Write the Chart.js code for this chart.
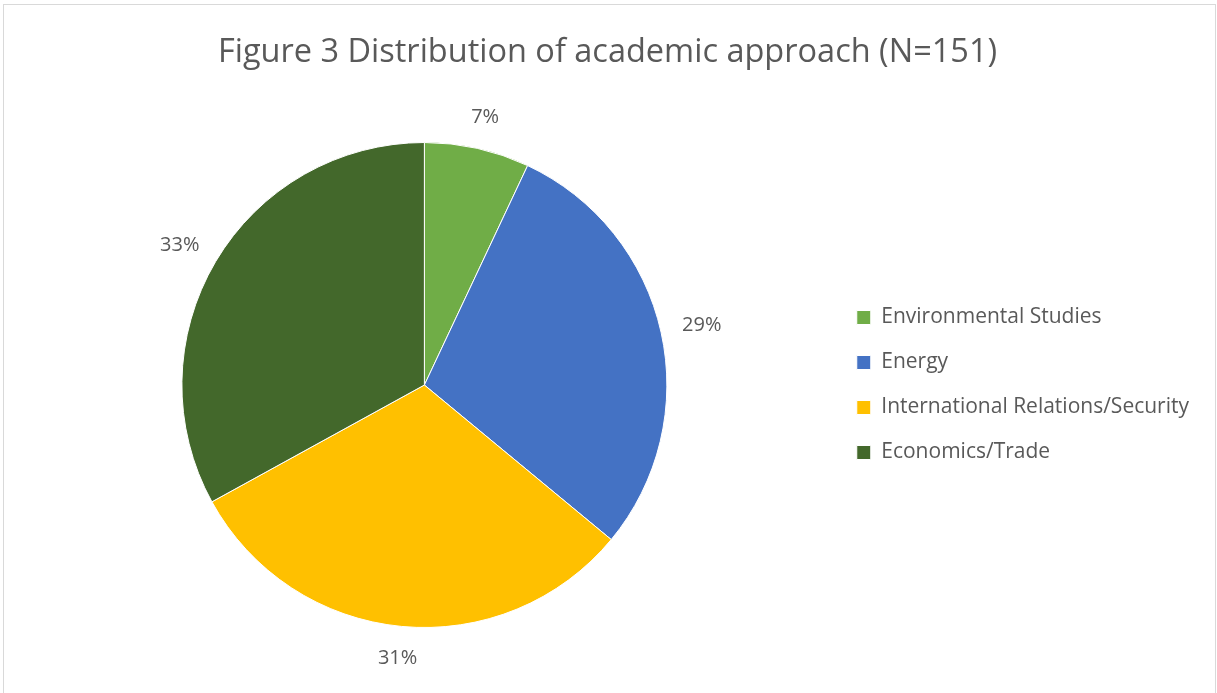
<!DOCTYPE html>
<html>
<head>
<meta charset="utf-8">
<title>Distribution of academic approach</title>
<script src="https://cdn.jsdelivr.net/npm/chart.js@4/dist/chart.umd.min.js"></script>
<style>
  html, body { margin: 0; padding: 0; background: #fff; }
  #wrap { position: relative; width: 1217px; height: 693px; overflow: hidden; }
  #frame {
    position: absolute; left: 3px; top: 4px; width: 1211px; height: 700px;
    border: 1px solid #d9d9d9; pointer-events: none;
  }
  canvas { position: absolute; left: 0; top: 0; }
</style>
</head>
<body>
<div id="wrap">
  <canvas id="pieChart" width="1217" height="693"></canvas>
  <div id="frame"></div>
</div>
<script>
// categories and shares (percent of N=151)
const categories = ['Environmental Studies', 'Energy', 'International Relations/Security', 'Economics/Trade'];
const shares = [7, 29, 31, 33];
const sliceColors = ['#70ad47', '#4472c4', '#ffc000', '#43682b'];

const FONT = "'Open Sans', 'Noto Sans', sans-serif";
const TEXT_COLOR = '#595959';

// percent labels just outside each slice
const outsideLabels = {
  id: 'outsideLabels',
  afterDatasetsDraw(chart) {
    const ctx = chart.ctx;
    const meta = chart.getDatasetMeta(0);
    const data = chart.data.datasets[0].data;
    ctx.save();
    ctx.font = '20px ' + FONT;
    ctx.fillStyle = TEXT_COLOR;
    ctx.textAlign = 'center';
    ctx.textBaseline = 'middle';
    meta.data.forEach((arc, i) => {
      const p = arc.getProps(['x', 'y', 'startAngle', 'endAngle', 'outerRadius'], true);
      const mid = (p.startAngle + p.endAngle) / 2;
      const text = data[i] + '%';
      const w = ctx.measureText(text).width;
      const h = 20;
      const r = p.outerRadius + 22;
      const cx = p.x + Math.cos(mid) * (r + w / 2);
      const cy = p.y + Math.sin(mid) * (r + h / 2);
      ctx.fillText(text, cx, cy);
    });
    ctx.restore();
  }
};

new Chart(document.getElementById('pieChart'), {
  type: 'pie',
  data: {
    labels: categories,
    datasets: [{
      data: shares,
      backgroundColor: sliceColors,
      borderColor: '#ffffff',
      borderWidth: 1
    }]
  },
  options: {
    responsive: false,
    animation: false,
    layout: {
      padding: { left: 16, right: 18, top: 0, bottom: 65 }
    },
    plugins: {
      title: {
        display: true,
        text: 'Figure 3 Distribution of academic approach (N=151)',
        color: TEXT_COLOR,
        font: { family: FONT, size: 32.5, weight: 'normal' },
        padding: { top: 33, bottom: 70 }
      },
      legend: {
        position: 'right',
        fullSize: false,
        labels: {
          color: TEXT_COLOR,
          font: { family: FONT, size: 21 },
          boxWidth: 14,
          boxHeight: 14,
          padding: 24
        }
      },
      tooltip: { enabled: false }
    }
  },
  plugins: [outsideLabels]
});
</script>
</body>
</html>
